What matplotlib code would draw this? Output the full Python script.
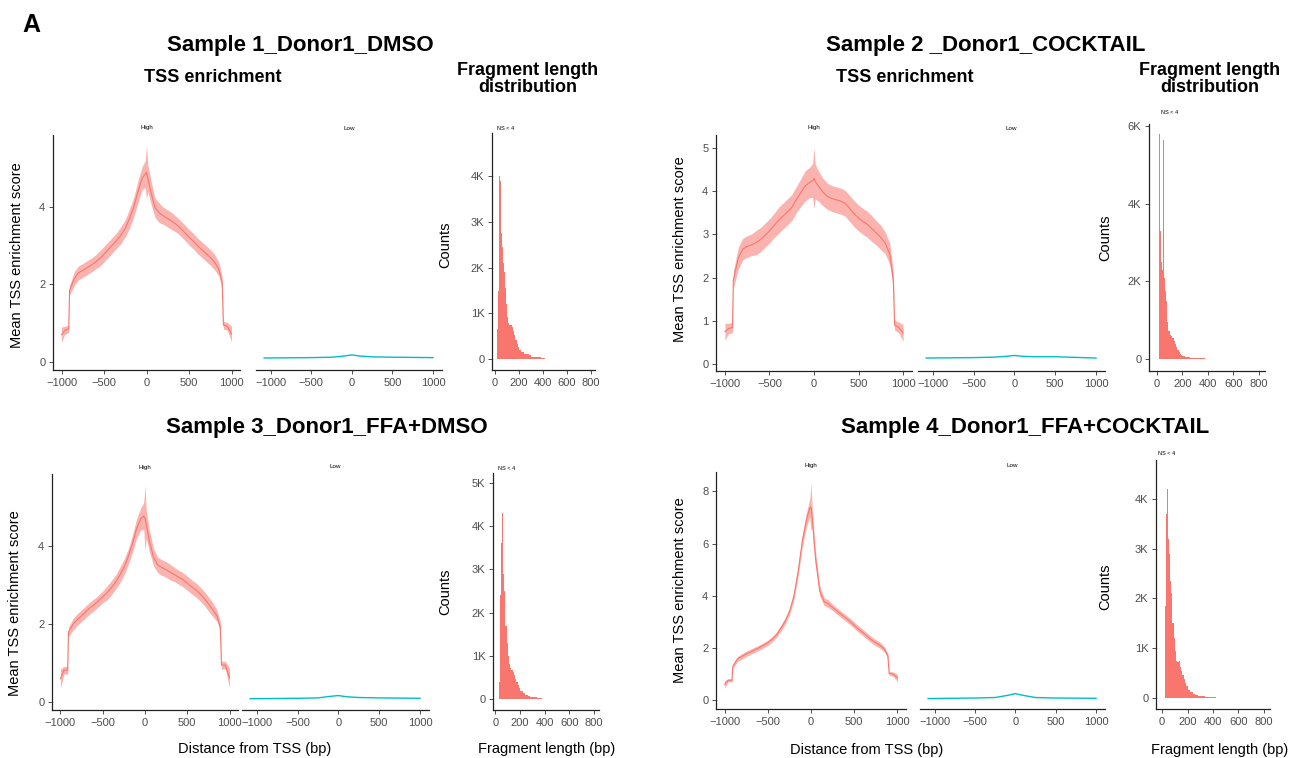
"""
TSS enrichment (High / Low) and fragment length distribution for four
Donor1 samples, 2 x 2 layout.
"""

import matplotlib
matplotlib.use("Agg")
import matplotlib.pyplot as plt
import matplotlib.ticker as mticker
import numpy as np

plt.rcParams["font.family"] = ["Liberation Sans", "DejaVu Sans"]
plt.rcParams["axes.unicode_minus"] = True

W, H = 1300, 758
RED = "#F8766D"
CYAN = "#00BFC4"
TICK_GREY = "#4D4D4D"

# ─── TSS enrichment, "High" group (mean score and noise half-width) ──────────
TSS_X = [-1000, -960, -915, -905, -850, -800, -750, -700, -650, -600,
         -550, -500, -450, -400, -350, -300, -250, -200, -150, -100,
         -50, -15, 0, 15, 50, 100, 150, 200, 250, 300,
         350, 400, 450, 500, 550, 600, 650, 700, 750, 800,
         850, 890, 905, 950, 1000]

s1_tss = [0.70, 0.82, 0.85, 1.85, 2.15, 2.30, 2.36, 2.43, 2.50, 2.58,
          2.67, 2.78, 2.90, 3.02, 3.14, 3.28, 3.45, 3.70, 4.00, 4.40,
          4.75, 4.85, 4.90, 4.75, 4.40, 3.98, 3.85, 3.77, 3.70, 3.63,
          3.55, 3.45, 3.34, 3.22, 3.12, 3.00, 2.90, 2.80, 2.70, 2.58,
          2.40, 2.05, 0.95, 0.92, 0.72]
s1_sd = [0.20, 0.10, 0.10, 0.12, 0.18, 0.18, 0.18, 0.18, 0.18, 0.18,
         0.20, 0.20, 0.20, 0.20, 0.20, 0.22, 0.22, 0.25, 0.25, 0.28,
         0.30, 0.35, 0.70, 0.35, 0.30, 0.25, 0.25, 0.22, 0.22, 0.22,
         0.20, 0.20, 0.20, 0.20, 0.20, 0.20, 0.20, 0.20, 0.20, 0.20,
         0.18, 0.15, 0.10, 0.10, 0.20]

s2_tss = [0.75, 0.82, 0.85, 1.95, 2.45, 2.66, 2.72, 2.76, 2.81, 2.88,
          2.98, 3.08, 3.20, 3.32, 3.42, 3.52, 3.62, 3.80, 3.96, 4.12,
          4.20, 4.25, 4.30, 4.22, 4.12, 3.98, 3.88, 3.83, 3.80, 3.77,
          3.72, 3.60, 3.48, 3.38, 3.30, 3.23, 3.13, 3.03, 2.93, 2.80,
          2.55, 1.95, 0.90, 0.85, 0.72]
s2_sd = [0.20, 0.12, 0.12, 0.20, 0.25, 0.25, 0.25, 0.25, 0.28, 0.28,
         0.28, 0.28, 0.28, 0.30, 0.30, 0.30, 0.30, 0.30, 0.32, 0.35,
         0.35, 0.40, 0.70, 0.40, 0.35, 0.32, 0.30, 0.30, 0.30, 0.30,
         0.30, 0.30, 0.30, 0.30, 0.30, 0.30, 0.30, 0.28, 0.28, 0.25,
         0.25, 0.20, 0.12, 0.12, 0.20]

s3_tss = [0.60, 0.82, 0.82, 1.80, 2.00, 2.12, 2.22, 2.32, 2.42, 2.50,
          2.60, 2.70, 2.80, 2.93, 3.07, 3.25, 3.45, 3.72, 4.05, 4.45,
          4.70, 4.77, 4.72, 4.55, 4.15, 3.72, 3.52, 3.45, 3.40, 3.33,
          3.27, 3.20, 3.14, 3.05, 2.96, 2.88, 2.78, 2.66, 2.52, 2.38,
          2.22, 1.94, 0.95, 0.95, 0.62]
s3_sd = [0.25, 0.10, 0.10, 0.12, 0.15, 0.15, 0.15, 0.15, 0.15, 0.15,
         0.15, 0.15, 0.18, 0.18, 0.18, 0.20, 0.20, 0.20, 0.22, 0.25,
         0.28, 0.35, 0.85, 0.35, 0.28, 0.22, 0.20, 0.20, 0.20, 0.20,
         0.18, 0.18, 0.18, 0.18, 0.18, 0.18, 0.18, 0.18, 0.18, 0.18,
         0.15, 0.12, 0.10, 0.10, 0.25]

s4_tss = [0.60, 0.76, 0.76, 1.30, 1.58, 1.68, 1.77, 1.85, 1.93, 2.01,
          2.10, 2.20, 2.33, 2.50, 2.75, 3.02, 3.38, 3.95, 4.90, 6.10,
          6.95, 7.35, 7.40, 6.95, 5.50, 4.20, 3.78, 3.69, 3.55, 3.41,
          3.28, 3.15, 3.02, 2.87, 2.72, 2.59, 2.45, 2.31, 2.20, 2.10,
          1.95, 1.70, 1.02, 1.00, 0.85]
s4_sd = [0.15, 0.06, 0.06, 0.08, 0.10, 0.10, 0.10, 0.10, 0.10, 0.10,
         0.10, 0.10, 0.10, 0.10, 0.12, 0.12, 0.12, 0.15, 0.18, 0.22,
         0.28, 0.35, 0.90, 0.35, 0.28, 0.20, 0.15, 0.15, 0.12, 0.12,
         0.12, 0.12, 0.12, 0.12, 0.12, 0.12, 0.12, 0.12, 0.12, 0.12,
         0.10, 0.10, 0.08, 0.08, 0.15]

# ─── TSS enrichment, "Low" group ─────────────────────────────────────────────
LOW_X = [-1080, -500, -250, -100, 0, 100, 250, 500, 1000]
s1_low = [0.10, 0.11, 0.12, 0.15, 0.18, 0.15, 0.13, 0.12, 0.11]
s2_low = [0.14, 0.15, 0.16, 0.18, 0.20, 0.18, 0.17, 0.17, 0.14]
s3_low = [0.09, 0.10, 0.11, 0.15, 0.17, 0.14, 0.12, 0.11, 0.10]
s4_low = [0.06, 0.08, 0.10, 0.18, 0.25, 0.18, 0.10, 0.08, 0.07]

# ─── Fragment length histograms (bin edges in bp, counts per bin) ────────────
FRAG_EDGES = [15, 20, 25, 30, 35, 40, 45, 50, 55, 60, 65, 70, 75, 80,
              90, 100, 110, 120, 130, 140, 150, 160, 170, 180, 190, 200,
              220, 240, 260, 280, 300, 340, 380, 420, 500, 600, 700, 800]

s1_frag = [300, 650, 1500, 2700, 4000, 4730, 3900, 2750, 2600, 2450, 2300, 2100, 1900,
           1550, 1200, 920, 780, 740, 750, 700, 620, 520, 420, 330, 270,
           200, 150, 120, 100, 80, 55, 35, 20, 10, 5, 3, 1]
s2_frag = [5800, 4200, 3300, 2800, 2500, 2300, 4000, 5650, 2100, 1900, 1750, 1500, 1300,
           950, 720, 620, 600, 550, 470, 380, 300, 230, 170, 120, 90,
           70, 50, 40, 30, 25, 20, 15, 12, 8, 5, 3, 2]
s3_frag = [0, 0, 0, 400, 1200, 2400, 3600, 4960, 4300, 3500, 2900, 2500, 2150,
           1700, 1300, 1000, 820, 720, 680, 620, 550, 470, 400, 330, 270,
           200, 150, 100, 80, 60, 40, 25, 15, 8, 4, 2, 1]
s4_frag = [0, 500, 1850, 3700, 4570, 4200, 3800, 3200, 2900, 2600, 2350, 2100, 1850,
           1500, 1200, 950, 750, 720, 750, 620, 550, 470, 380, 300, 240,
           170, 120, 80, 65, 50, 35, 25, 15, 8, 4, 2, 1]

SAMPLES = [
    "Sample 1_Donor1_DMSO",
    "Sample 2 _Donor1_COCKTAIL",
    "Sample 3_Donor1_FFA+DMSO",
    "Sample 4_Donor1_FFA+COCKTAIL",
]

# panel geometry in pixels: (left, top, right, bottom)
LAYOUT = [
    dict(title=(300, 45), hi=(53, 135, 240, 370), lo=(256, 135, 442, 370),
         fr=(492, 133, 595, 370), tss_ylim=(-0.21, 5.86), tss_ticks=[0, 2, 4],
         fr_xlim=(-25, 833), fr_ylim=(-240, 4950), fr_ticks=[0, 1000, 2000, 3000, 4000],
         ylab=(17, 255), counts=(445, 245), ns=(506, 128)),
    dict(title=(986, 45), hi=(716, 135, 912, 371), lo=(918, 135, 1105, 371),
         fr=(1149, 124, 1265, 371), tss_ylim=(-0.16, 5.3), tss_ticks=[0, 1, 2, 3, 4, 5],
         fr_xlim=(-63, 848), fr_ylim=(-310, 6060), fr_ticks=[0, 2000, 4000, 6000],
         ylab=(680, 249), counts=(1105, 238), ns=(1170, 113)),
    dict(title=(327, 428), hi=(52, 474, 238, 710), lo=(242, 474, 429, 710),
         fr=(493, 473, 599, 710), tss_ylim=(-0.2, 5.85), tss_ticks=[0, 2, 4],
         fr_xlim=(-20, 840), fr_ylim=(-250, 5230), fr_ticks=[0, 1000, 2000, 3000, 4000, 5000],
         ylab=(15, 603), counts=(445, 592), ns=(507, 469)),
    dict(title=(1025, 428), hi=(716, 472, 906, 709), lo=(920, 472, 1105, 709),
         fr=(1156, 460, 1270, 709), tss_ylim=(-0.34, 8.74), tss_ticks=[0, 2, 4, 6, 8],
         fr_xlim=(-48, 848), fr_ylim=(-220, 4780), fr_ticks=[0, 1000, 2000, 3000, 4000],
         ylab=(680, 590), counts=(1105, 587), ns=(1167, 453)),
]

TSS = [(s1_tss, s1_sd, s1_low), (s2_tss, s2_sd, s2_low),
       (s3_tss, s3_sd, s3_low), (s4_tss, s4_sd, s4_low)]
FRAG = [s1_frag, s2_frag, s3_frag, s4_frag]

fig = plt.figure(figsize=(W / 100, H / 100), dpi=100)


def px_box(l, t, r, b):
    return [l / W, 1 - b / H, (r - l) / W, (b - t) / H]


def px_text(x, y, s, **kw):
    kw.setdefault("ha", "center")
    kw.setdefault("va", "center")
    fig.text(x / W, 1 - y / H, s, **kw)


def clean(ax, left=True):
    for side in ("top", "right"):
        ax.spines[side].set_visible(False)
    ax.spines["left"].set_visible(left)
    for side in ("left", "bottom"):
        ax.spines[side].set_linewidth(0.9)
        ax.spines[side].set_color("#222222")
    ax.tick_params(length=3, width=0.6, color="#333333", labelsize=8,
                   labelcolor=TICK_GREY, pad=2.5)
    if not left:
        ax.tick_params(axis="y", left=False, labelleft=False)


k_fmt = mticker.FuncFormatter(lambda v, _: "0" if v == 0 else f"{v / 1000:.0f}K")

for i, (name, lay) in enumerate(zip(SAMPLES, LAYOUT)):
    tss, sd, low = TSS[i]
    tss = np.array(tss)
    sd = np.array(sd)

    # High
    ax = fig.add_axes(px_box(*lay["hi"]))
    ax.fill_between(TSS_X, tss - sd, tss + sd, color=RED, alpha=0.55, lw=0)
    ax.plot(TSS_X, tss, color=RED, lw=0.8)
    ax.set_xlim(-1100, 1100)
    ax.set_ylim(*lay["tss_ylim"])
    ax.set_xticks([-1000, -500, 0, 500, 1000])
    ax.set_yticks(lay["tss_ticks"])
    clean(ax)
    l, t, r, b = lay["hi"]
    px_text((l + r) / 2, t - 7, "High", fontsize=4.5)

    # Low
    ax = fig.add_axes(px_box(*lay["lo"]))
    ax.plot(LOW_X, low, color=CYAN, lw=1.0)
    ax.set_xlim(-1180, 1110)
    ax.set_ylim(*lay["tss_ylim"])
    ax.set_xticks([-1000, -500, 0, 500, 1000])
    clean(ax, left=False)
    l, t, r, b = lay["lo"]
    px_text((l + r) / 2, t - 7, "Low", fontsize=4.5)

    # Fragment length
    ax = fig.add_axes(px_box(*lay["fr"]))
    ax.stairs(FRAG[i], FRAG_EDGES, fill=True, color=RED, lw=0)
    ax.set_xlim(*lay["fr_xlim"])
    ax.set_ylim(*lay["fr_ylim"])
    ax.set_xticks([0, 200, 400, 600, 800])
    ax.set_yticks(lay["fr_ticks"])
    ax.yaxis.set_major_formatter(k_fmt)
    clean(ax)
    px_text(*lay["ns"], "NS < 4", fontsize=4)

    # Titles and axis labels
    px_text(*lay["title"], name, fontsize=16, fontweight="bold")
    px_text(*lay["ylab"], "Mean TSS enrichment score", fontsize=10.5, rotation=90)
    px_text(*lay["counts"], "Counts", fontsize=10.5, rotation=90)

px_text(213, 78, "TSS enrichment", fontsize=13, fontweight="bold")
px_text(905, 78, "TSS enrichment", fontsize=13, fontweight="bold")
px_text(528, 79, "Fragment length\ndistribution", fontsize=13, fontweight="bold",
        linespacing=0.95)
px_text(1210, 79, "Fragment length\ndistribution", fontsize=13, fontweight="bold",
        linespacing=0.95)

px_text(255, 749, "Distance from TSS (bp)", fontsize=10.5)
px_text(867, 750, "Distance from TSS (bp)", fontsize=10.5)
px_text(547, 749, "Fragment length (bp)", fontsize=10.5)
px_text(1220, 750, "Fragment length (bp)", fontsize=10.5)

px_text(22, 25, "A", fontsize=18, fontweight="bold", ha="left")

fig.savefig("out.png", dpi=100, facecolor="white")
